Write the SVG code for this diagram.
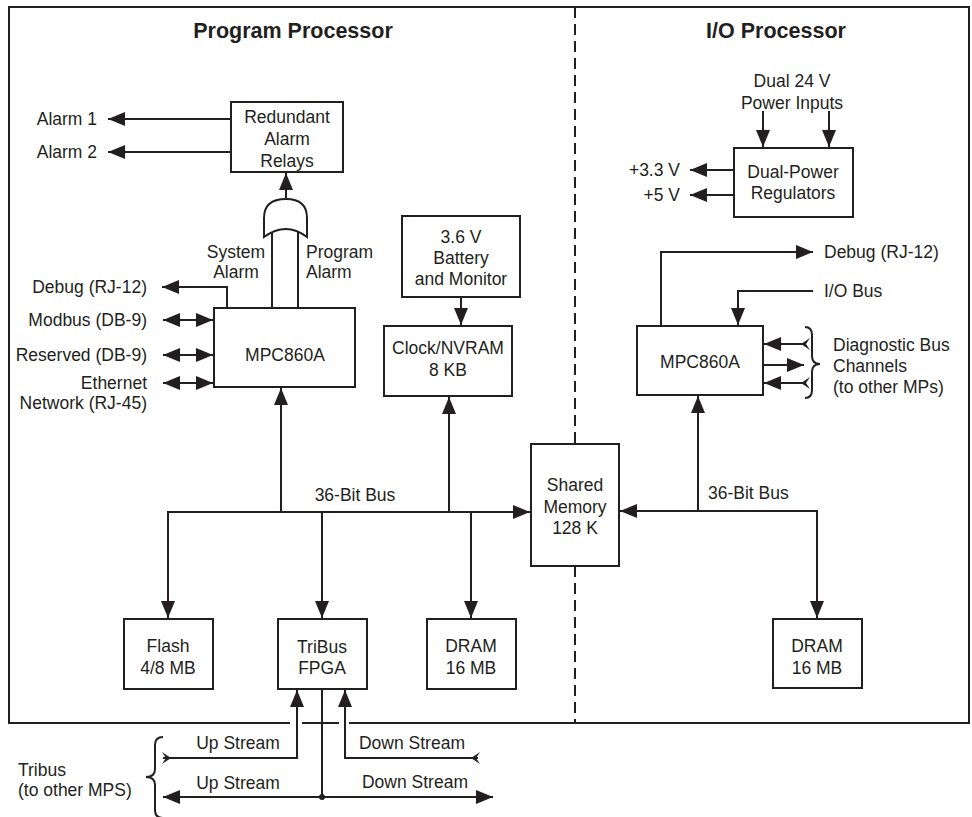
<svg xmlns="http://www.w3.org/2000/svg" width="972" height="817" viewBox="0 0 972 817">
<style>
text{font-family:"Liberation Sans",Arial,sans-serif;font-size:17.5px;fill:#231f20}
.t{font-weight:bold;font-size:21.5px}
.m{text-anchor:middle}
.e{text-anchor:end}
.box{fill:#fff;stroke:#231f20;stroke-width:2}
.ln{fill:none;stroke:#231f20;stroke-width:2}
.ar{fill:none;stroke:#231f20;stroke-width:2;marker-end:url(#a)}
.da{fill:none;stroke:#231f20;stroke-width:2;marker-start:url(#a);marker-end:url(#a)}
.ch{fill:#231f20;stroke:none}
</style>
<defs>
<marker id="a" markerUnits="userSpaceOnUse" markerWidth="18" markerHeight="15" refX="17" refY="7.5" orient="auto-start-reverse" viewBox="0 0 18 15">
<path d="M0,0.5 L17,7.5 L0,14.5 Z" fill="#231f20"/>
</marker>
</defs>
<rect width="972" height="817" fill="#fff"/>
<g id="frame">
<rect x="9" y="7" width="960" height="716" class="ln"/>
<line x1="575" y1="7" x2="575" y2="444" class="ln" stroke-dasharray="11 6"/>
<line x1="575" y1="566" x2="575" y2="722" class="ln" stroke-dasharray="11 6"/>
<text x="293" y="38" class="t m">Program Processor</text>
<text x="776" y="38" class="t m">I/O Processor</text>
</g>
<g id="connectors">
<line x1="231" y1="119" x2="108" y2="119" class="ar"/>
<line x1="231" y1="152" x2="108" y2="152" class="ar"/>
<line x1="286" y1="199" x2="286" y2="173" class="ar"/>
<line x1="272" y1="231" x2="272" y2="308" class="ln"/>
<line x1="298" y1="231" x2="298" y2="308" class="ln"/>
<polyline points="227,308 227,287 162,287" class="ar"/>
<line x1="163" y1="320" x2="213" y2="320" class="da"/>
<line x1="163" y1="355" x2="213" y2="355" class="da"/>
<line x1="163" y1="383" x2="213" y2="383" class="da"/>
<line x1="461" y1="297" x2="461" y2="325" class="ar"/>
<line x1="281" y1="512" x2="281" y2="388" class="ar"/>
<line x1="449" y1="512" x2="449" y2="397" class="ar"/>
<polyline points="168,618 168,512 530,512" class="da"/>
<line x1="322" y1="512" x2="322" y2="618" class="ar"/>
<line x1="471" y1="512" x2="471" y2="618" class="ar"/>
<polyline points="817,618 817,511 620,511" class="da"/>
<line x1="698" y1="511" x2="698" y2="396" class="ar"/>
<line x1="763" y1="111" x2="763" y2="147" class="ar"/>
<line x1="829" y1="111" x2="829" y2="147" class="ar"/>
<line x1="734" y1="170" x2="690" y2="170" class="ar"/>
<line x1="734" y1="195" x2="690" y2="195" class="ar"/>
<polyline points="661,326 661,252 813,252" class="ar"/>
<polyline points="813,291 738,291 738,325" class="ar"/>
<line x1="806" y1="344" x2="764" y2="344" class="ar"/>
<line x1="763" y1="365" x2="804" y2="365" class="ar"/>
<line x1="806" y1="383" x2="764" y2="383" class="ar"/>
<path d="M810,338 L801,344 L810,350 L806,344 Z" class="ch"/>
<path d="M810,377 L801,383 L810,389 L806,383 Z" class="ch"/>
<path d="M805,327 Q812,327 812,335 L812,356 Q812,364 820,364 Q812,364 812,372 L812,390 Q812,398 805,398" class="ln" stroke-width="1.5"/>
<rect x="290" y="719" width="12" height="8" fill="#fff"/>
<rect x="339" y="719" width="10" height="8" fill="#fff"/>
<polyline points="163,758 297,758 297,690" class="ar"/>
<polyline points="478,758 345,758 345,690" class="ar"/>
<path d="M162,752 L171,758 L162,764 L166,758 Z" class="ch"/>
<path d="M480,752 L471,758 L480,764 L476,758 Z" class="ch"/>
<line x1="322" y1="689" x2="322" y2="797" class="ln"/>
<line x1="163" y1="797" x2="493" y2="797" class="da"/>
<circle cx="322" cy="797" r="3" fill="#231f20"/>
<path d="M163,737 Q155,737 155,745 L155,769 Q155,777 146,777 Q155,777 155,785 L155,810 Q155,818 163,818" class="ln" stroke-width="1.5"/>
</g>
<g id="alarm-labels">
<text x="97" y="125" class="e">Alarm 1</text>
<text x="97" y="158" class="e">Alarm 2</text>
<text x="236" y="258" class="m">System</text>
<text x="236" y="278" class="m">Alarm</text>
<text x="306" y="258">Program</text>
<text x="306" y="278">Alarm</text>
</g>
<g id="relays">
<rect x="231" y="102" width="112" height="70" class="box"/>
<text x="287" y="123" class="m">Redundant</text>
<text x="287" y="145" class="m">Alarm</text>
<text x="287" y="167" class="m">Relays</text>
</g>
<g id="or-gate">
<path d="M264,237 L264,218 Q264,199 286,199 Q307,199 307,218 L307,237 Q286,221 264,237 Z" class="box"/>
</g>
<g id="mpc-left">
<rect x="214" y="308" width="141" height="79" class="box"/>
<text x="285" y="361" class="m">MPC860A</text>
<text x="147" y="293" class="e">Debug (RJ-12)</text>
<text x="147" y="326" class="e">Modbus (DB-9)</text>
<text x="147" y="361" class="e">Reserved (DB-9)</text>
<text x="147" y="389" class="e">Ethernet</text>
<text x="147" y="409" class="e">Network (RJ-45)</text>
</g>
<g id="battery">
<rect x="402" y="216" width="118" height="81" class="box"/>
<text x="461" y="243" class="m">3.6 V</text>
<text x="461" y="264" class="m">Battery</text>
<text x="461" y="285" class="m">and Monitor</text>
</g>
<g id="clock">
<rect x="384" y="326" width="128" height="70" class="box"/>
<text x="448" y="354" class="m">Clock/NVRAM</text>
<text x="448" y="376" class="m">8 KB</text>
</g>
<g id="bus-left">
<text x="355" y="501" class="m">36-Bit Bus</text>
</g>
<g id="shared">
<rect x="531" y="444" width="88" height="122" class="box"/>
<text x="575" y="491" class="m">Shared</text>
<text x="575" y="513" class="m">Memory</text>
<text x="575" y="534" class="m">128 K</text>
</g>
<g id="bus-right">
<text x="708" y="499">36-Bit Bus</text>
</g>
<g id="flash">
<rect x="124" y="619" width="89" height="70" class="box"/>
<text x="168" y="652" class="m">Flash</text>
<text x="168" y="674" class="m">4/8 MB</text>
</g>
<g id="tribus">
<rect x="278" y="619" width="89" height="70" class="box"/>
<text x="322" y="653" class="m">TriBus</text>
<text x="322" y="674" class="m">FPGA</text>
</g>
<g id="dram-left">
<rect x="427" y="619" width="89" height="70" class="box"/>
<text x="471" y="652" class="m">DRAM</text>
<text x="471" y="674" class="m">16 MB</text>
</g>
<g id="dram-right">
<rect x="773" y="619" width="89" height="69" class="box"/>
<text x="817" y="652" class="m">DRAM</text>
<text x="817" y="674" class="m">16 MB</text>
</g>
<g id="power">
<text x="792" y="87" class="m">Dual 24 V</text>
<text x="792" y="109" class="m">Power Inputs</text>
<rect x="734" y="148" width="119" height="69" class="box"/>
<text x="793" y="178" class="m">Dual-Power</text>
<text x="793" y="199" class="m">Regulators</text>
<text x="680" y="176" class="e">+3.3 V</text>
<text x="680" y="201" class="e">+5 V</text>
</g>
<g id="mpc-right">
<rect x="637" y="326" width="126" height="69" class="box"/>
<text x="700" y="368" class="m">MPC860A</text>
<text x="824" y="258">Debug (RJ-12)</text>
<text x="824" y="297">I/O Bus</text>
<text x="833" y="351">Diagnostic Bus</text>
<text x="833" y="372">Channels</text>
<text x="833" y="393">(to other MPs)</text>
</g>
<g id="tribus-links">
<text x="238" y="749" class="m">Up Stream</text>
<text x="412" y="749" class="m">Down Stream</text>
<text x="238" y="789" class="m">Up Stream</text>
<text x="415" y="788" class="m">Down Stream</text>
<text x="18" y="776">Tribus</text>
<text x="18" y="796">(to other MPS)</text>
</g>
</svg>
